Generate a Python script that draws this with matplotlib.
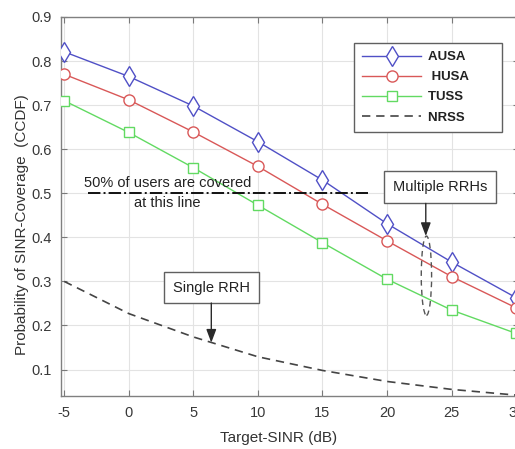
import matplotlib
matplotlib.use("Agg")
import matplotlib.pyplot as plt
from matplotlib.patches import Ellipse

plt.rcParams['font.family'] = ['Liberation Sans', 'DejaVu Sans']

# Target SINR values (dB)
target_sinr = [-5, 0, 5, 10, 15, 20, 25, 30]

# Coverage probability for each scheme
ausa = [0.821, 0.765, 0.698, 0.617, 0.530, 0.431, 0.344, 0.263]
husa = [0.770, 0.712, 0.639, 0.561, 0.475, 0.392, 0.311, 0.240]
tuss = [0.710, 0.638, 0.558, 0.473, 0.388, 0.305, 0.235, 0.182]
nrss = [0.300, 0.227, 0.174, 0.129, 0.098, 0.073, 0.055, 0.042]

series_labels = ['AUSA', ' HUSA', 'TUSS', 'NRSS']
x_ticks = [-5, 0, 5, 10, 15, 20, 25, 30]
y_ticks = [0.1, 0.2, 0.3, 0.4, 0.5, 0.6, 0.7, 0.8, 0.9]

W, H = 515, 449
fig = plt.figure(figsize=(W / 100, H / 100), dpi=100)
ax = fig.add_axes([61 / W, 1 - 396 / H, 458.4 / W, (396 - 17) / H])

blue = '#5050c6'
red = '#d95858'
green = '#62da62'

ax.plot(target_sinr, ausa, color=blue, lw=1.0, marker='d', ms=10.5,
        mfc='white', mec=blue, mew=1.0, label=series_labels[0], zorder=3)
ax.plot(target_sinr, husa, color=red, lw=1.0, marker='o', ms=8,
        mfc='white', mec=red, mew=1.0, label=series_labels[1], zorder=3)
ax.plot(target_sinr, tuss, color=green, lw=1.0, marker='s', ms=6.5,
        mfc='white', mec=green, mew=1.0, label=series_labels[2], zorder=3)
ax.plot(target_sinr, nrss, color='#444444', lw=1.2, ls=(0, (5, 3.5)),
        label=series_labels[3], zorder=3)

ax.set_xlim(-5.25, 30.25)
ax.set_ylim(0.04, 0.9)
ax.set_xticks(x_ticks)
ax.set_yticks(y_ticks)
ax.set_xticklabels([str(v) for v in x_ticks])
ax.set_yticklabels([f'{v:.1f}' for v in y_ticks])
ax.tick_params(direction='in', top=True, right=True, length=4,
               labelsize=10.5, colors='#7a7a7a', labelcolor='#383838', pad=7)
ax.grid(True, color='#e3e3e3', lw=0.8)
ax.set_axisbelow(True)
for s in ax.spines.values():
    s.set_color('#808080')
    s.set_linewidth(1.0)

fig.text(278.5 / W, 1 - 438 / H, 'Target-SINR (dB)', ha='center', va='center',
         fontsize=11, color='#333333')
fig.text(22 / W, 1 - 225 / H, 'Probability of SINR-Coverage  (CCDF)',
         ha='center', va='center', rotation=90, fontsize=11, color='#333333')

# 50 % coverage reference line
ax.plot([-3.15, 18.5], [0.5, 0.5], color='#111111', lw=1.4, ls='-.', zorder=4)
ax.text(3.0, 0.524, '50% of users are covered', ha='center', va='center',
        fontsize=10.5, color='#222222', zorder=5)
ax.text(3.0, 0.479, 'at this line', ha='center', va='center',
        fontsize=10.5, color='#222222', zorder=5)

box = dict(boxstyle='square,pad=0.6', fc='white', ec='#606060', lw=1.0)
arrow = dict(arrowstyle='-|>,head_length=0.8,head_width=0.3',
             color='#2a2a2a', lw=1.0, shrinkA=0, shrinkB=0)

# Single RRH annotation
ax.text(6.39, 0.286, 'Single RRH', ha='center', va='center', fontsize=10.5,
        color='#222222', bbox=box, zorder=6)
ax.annotate('', xy=(6.39, 0.161), xytext=(6.39, 0.251), arrowprops=arrow,
            zorder=6)

# Multiple RRHs annotation
ax.text(24.1, 0.514, 'Multiple RRHs', ha='center', va='center', fontsize=10.5,
        color='#222222', bbox=box, zorder=6)
ax.annotate('', xy=(23.0, 0.403), xytext=(23.0, 0.477), arrowprops=arrow,
            zorder=6)
ax.add_patch(Ellipse((23.05, 0.313), 0.8, 0.18, fill=False, ec='#555555',
                     lw=1.0, ls=(0, (4, 3)), zorder=5))

leg = ax.legend(loc='upper left', bbox_to_anchor=(354 / W, 1 - 43 / H),
                bbox_transform=fig.transFigure, borderaxespad=0,
                labels=[s + '       ' for s in series_labels],
                prop={'weight': 'bold', 'size': 9.5}, handlelength=4.5,
                handletextpad=0.5, labelspacing=0.6, fancybox=False,
                framealpha=1, edgecolor='#606060', borderpad=0.6)
leg.get_frame().set_linewidth(1.0)
for t in leg.get_texts():
    t.set_color('#222222')

fig.savefig('out.png', dpi=100)
